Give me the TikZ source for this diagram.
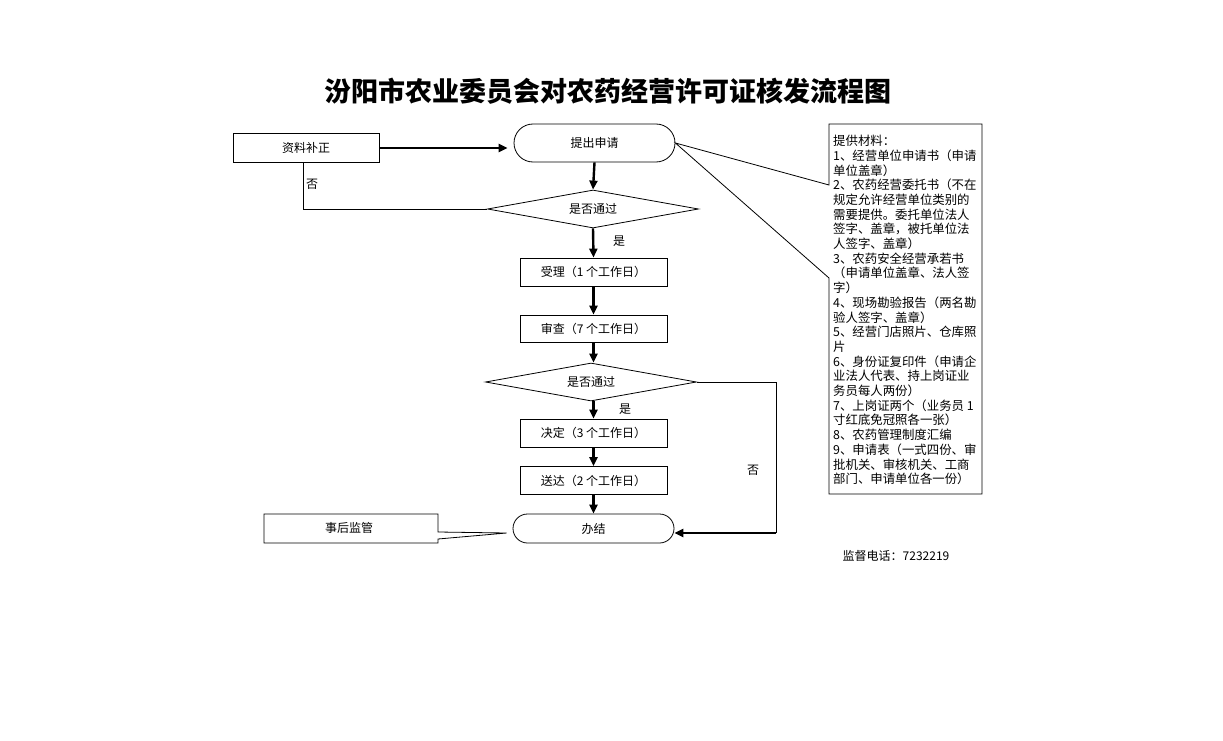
\documentclass[tikz,border=0pt]{standalone}
\usepackage{fontspec}
\setmainfont{Noto Sans CJK SC}
\usetikzlibrary{shapes.geometric,arrows.meta}
\tikzset{
  every node/.style={inner sep=0pt, font=\fontsize{12}{14}\selectfont},
  boxnode/.style={draw, line width=0.8pt, minimum width=147pt, minimum height=28pt},
  stadium/.style={draw, line width=0.8pt, rounded corners=#1, minimum width=161pt},
  decision/.style={draw, diamond, aspect=5.55, line width=0.8pt, minimum width=211pt, minimum height=38pt},
  flow/.style={line width=2.4pt, -{Triangle[length=9pt,width=8pt]}},
  thinline/.style={line width=0.8pt},
  outline/.style={line width=0.8pt, line join=miter}
}
\begin{document}
\begin{tikzpicture}[x=1pt,y=-1pt]
\useasboundingbox (0,0) rectangle (1223,741);
\node (title) at (608,91) {\fontsize{27}{30}\selectfont\bfseries 汾阳市农业委员会对农药经营许可证核发流程图};

\node[boxnode, minimum width=146pt, minimum height=29pt] (buzheng) at (306,147.5) {资料补正};
\node[stadium=19pt, minimum height=38pt] (tichu) at (594.5,143) {提出申请};
\node[decision] (d1) at (593,209) {是否通过};
\node[boxnode] (shouli) at (593.5,272) {受理（1 个工作日）};
\node[boxnode, minimum height=27pt] (shencha) at (593.5,328.5) {审查（7 个工作日）};
\node[decision] (d2) at (591,382) {是否通过};
\node[boxnode] (jueding) at (593.5,433) {决定（3 个工作日）};
\node[boxnode] (songda) at (593.5,480.5) {送达（2 个工作日）};
\node[stadium=14.5pt, minimum height=29pt] (banjie) at (593.5,528.5) {办结};

% callout 事后监管
\node (houjian) at (349,528) {事后监管};
\draw[outline] (438,532) -- (438,514) -- (264,514) -- (264,543) -- (438,543) -- (438,539) -- ([xshift=-6pt]banjie.west |- 0,533) -- cycle;

% callout 提供材料
\node[anchor=north west, align=left, font=\fontsize{12.4}{14.7}\selectfont] (mat) at (833,135) {提供材料：\\
1、经营单位申请书（申请\\
单位盖章）\\
2、农药经营委托书（不在\\
规定允许经营单位类别的\\
需要提供。委托单位法人\\
签字、盖章，被托单位法\\
人签字、盖章）\\
3、农药安全经营承若书\\
（申请单位盖章、法人签\\
字）\\
4、现场勘验报告（两名勘\\
验人签字、盖章）\\
5、经营门店照片、仓库照\\
片\\
6、身份证复印件（申请企\\
业法人代表、持上岗证业\\
务员每人两份）\\
7、上岗证两个（业务员 1\\
寸红底免冠照各一张）\\
8、农药管理制度汇编\\
9、申请表（一式四份、审\\
批机关、审核机关、工商\\
部门、申请单位各一份）};
\draw[outline] (829,185) -- (829,124) -- (982,124) -- (982,494) -- (829,494) -- (829,278) -- (tichu.east) -- cycle;

% connectors
\draw[flow] (buzheng.east |- 0,148) -- ([xshift=-6pt]tichu.west |- 0,148);
\draw[flow] (tichu.south) -- (d1.north);
\draw[thinline] (d1.west) -| ([xshift=-3pt]buzheng.south);
\node (no1) at (312,184) {否};
\draw[flow] (d1.south) -- (shouli.north);
\node (yes1) at (619,241) {是};
\draw[flow] (shouli.south) -- (shencha.north);
\draw[flow] (shencha.south) -- (shencha.south |- d2.north);
\draw[flow] (jueding.north |- d2.south) -- (jueding.north);
\node (yes2) at (625,409) {是};
\draw[flow] (jueding.south) -- (songda.north);
\draw[flow] (songda.south) -- (banjie.north);
\coordinate (r1) at (776,382);
\coordinate (r2) at (776,533);
\draw[thinline] (d2.east) -- (r1) -- (r2);
\draw[flow] (r2) -- (banjie.east |- r2);
\node (no2) at (753,470) {否};

\node (tel) at (896,556) {监督电话：7232219};
\end{tikzpicture}
\end{document}
